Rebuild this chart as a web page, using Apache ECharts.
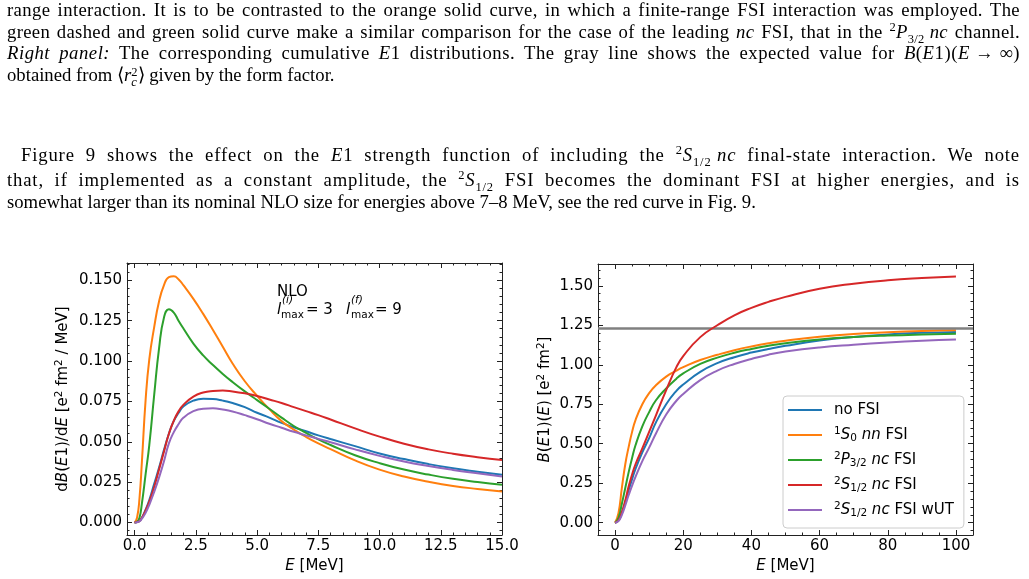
<!DOCTYPE html>
<html>
<head>
<meta charset="utf-8">
<script src="https://cdn.jsdelivr.net/npm/echarts@6/dist/echarts.min.js"></script>
<style>
html, body { margin: 0; padding: 0; background: #fff; }
#page { position: relative; width: 1029px; height: 579px; overflow: hidden; }
#chart { position: absolute; left: 0; top: 0; width: 1029px; height: 579px; }
.ln { position: absolute; left: 7px; width: 1013px; font-family: "Liberation Serif", serif; font-size: 18.7px;
      line-height: 18px; color: #000; white-space: nowrap; text-align: justify; text-align-last: justify; }
.ln.last { text-align: left; text-align-last: left; }
.ln sup, .ln sub { font-size: 12.5px; line-height: 0; }
.m { display: inline-block; }
.stk { display: inline-block; font-size: 12.5px; line-height: 10px; vertical-align: -5px; text-align: left; }
</style>
</head>
<body>
<div id="page">
  <div id="chart"></div>
  <div class="ln" style="top:1px">range interaction. It is to be contrasted to the orange solid curve, in which a finite-range FSI interaction was employed. The</div>
  <div class="ln" style="top:23px">green dashed and green solid curve make a similar comparison for the case of the leading <i>nc</i> FSI, that in the <span class="m"><sup>2</sup><i>P</i><sub>3/2</sub>&nbsp;<i>nc</i></span> channel.</div>
  <div class="ln" style="top:44px"><i>Right panel:</i> The corresponding cumulative <i>E</i>1 distributions. The gray line shows the expected value for <span class="m"><i>B</i>(<i>E</i>1)(<i>E</i> &rarr; &infin;)</span></div>
  <div class="ln last" style="top:66px">obtained from &lang;<i>r</i><span class="stk">2<br><i>c</i></span>&rang; given by the form factor.</div>

  <div class="ln" style="top:146px; left:21px; width:999px">Figure 9 shows the effect on the <i>E</i>1 strength function of including the <span class="m"><sup>2</sup><i>S</i><sub>1/2</sub>&nbsp;<i>nc</i></span> final-state interaction. We note</div>
  <div class="ln" style="top:171px">that, if implemented as a constant amplitude, the <span class="m"><sup>2</sup><i>S</i><sub>1/2</sub></span> FSI becomes the dominant FSI at higher energies, and is</div>
  <div class="ln last" style="top:193px">somewhat larger than its nominal NLO size for energies above 7&ndash;8 MeV, see the red curve in Fig. 9.</div>
</div>
<script>
// left panel: dB(E1)/dE vs E [MeV]
const leftE = [0, 0.1, 0.2, 0.3, 0.45, 0.6, 0.8, 1.0, 1.2, 1.4, 1.6, 1.8, 2.0, 2.4, 2.8, 3.2, 3.6, 4.0, 4.5, 5.0, 5.5, 6.0, 6.5, 7.0, 7.5, 8.0, 9, 10, 11, 12, 13, 14, 15];
const leftNoFSI = [0, 0.0003, 0.001, 0.003, 0.008, 0.014, 0.024, 0.034, 0.045, 0.055, 0.063, 0.068, 0.072, 0.0755, 0.0767, 0.0765, 0.0755, 0.074, 0.0715, 0.068, 0.065, 0.0617, 0.059, 0.0565, 0.054, 0.0517, 0.0473, 0.0428, 0.0393, 0.0362, 0.0336, 0.0315, 0.0296];
const left1S0 = [0, 0.003, 0.015, 0.038, 0.076, 0.101, 0.121, 0.137, 0.147, 0.152, 0.1525, 0.1505, 0.1468, 0.1385, 0.1292, 0.1192, 0.1088, 0.0985, 0.0875, 0.0785, 0.0702, 0.0628, 0.0575, 0.053, 0.049, 0.0455, 0.0385, 0.0328, 0.0285, 0.0253, 0.0227, 0.0208, 0.0192];
const left2P32 = [0, 0.0005, 0.003, 0.012, 0.03, 0.048, 0.079, 0.108, 0.127, 0.132, 0.130, 0.1248, 0.120, 0.1108, 0.1035, 0.0975, 0.092, 0.087, 0.0812, 0.0758, 0.0705, 0.065, 0.0598, 0.0555, 0.0515, 0.048, 0.0417, 0.0368, 0.0328, 0.0297, 0.0271, 0.0251, 0.0234];
const left2S12 = [0, 0.0003, 0.001, 0.003, 0.0075, 0.013, 0.022, 0.033, 0.044, 0.055, 0.063, 0.069, 0.073, 0.078, 0.0805, 0.0815, 0.0818, 0.0812, 0.080, 0.0784, 0.0762, 0.074, 0.0715, 0.069, 0.0665, 0.0638, 0.0583, 0.0532, 0.0488, 0.0453, 0.0426, 0.0405, 0.0387];
const left2S12wUT = [0, 0.0002, 0.0008, 0.0025, 0.006, 0.011, 0.019, 0.028, 0.038, 0.049, 0.056, 0.061, 0.065, 0.069, 0.0705, 0.0707, 0.070, 0.0688, 0.0665, 0.064, 0.0612, 0.0587, 0.0562, 0.054, 0.0518, 0.0497, 0.0453, 0.0413, 0.0378, 0.035, 0.0326, 0.0305, 0.0285];

// right panel: cumulative B(E1)(E)
const rightE = [0, 1, 2, 3, 4, 5, 6, 8, 10, 12, 15, 18, 20, 25, 30, 35, 40, 45, 50, 60, 70, 80, 90, 100];
const rightNoFSI = [0, 0.015, 0.06, 0.13, 0.205, 0.275, 0.34, 0.445, 0.535, 0.635, 0.75, 0.835, 0.875, 0.955, 1.01, 1.048, 1.077, 1.1, 1.12, 1.153, 1.176, 1.192, 1.202, 1.208];
const right1S0 = [0, 0.06, 0.22, 0.37, 0.48, 0.575, 0.65, 0.75, 0.82, 0.87, 0.925, 0.963, 0.985, 1.03, 1.063, 1.092, 1.116, 1.136, 1.152, 1.177, 1.195, 1.206, 1.214, 1.219];
const right2P32 = [0, 0.03, 0.12, 0.22, 0.32, 0.41, 0.49, 0.61, 0.70, 0.775, 0.85, 0.912, 0.945, 1.005, 1.045, 1.076, 1.1, 1.12, 1.136, 1.16, 1.175, 1.185, 1.192, 1.197];
const right2S12 = [0, 0.015, 0.065, 0.14, 0.23, 0.305, 0.37, 0.47, 0.575, 0.68, 0.84, 0.985, 1.055, 1.175, 1.25, 1.313, 1.36, 1.398, 1.43, 1.481, 1.513, 1.535, 1.549, 1.559];
const right2S12wUT = [0, 0.01, 0.05, 0.11, 0.175, 0.235, 0.29, 0.39, 0.475, 0.565, 0.685, 0.772, 0.815, 0.903, 0.963, 1.005, 1.037, 1.064, 1.084, 1.11, 1.127, 1.141, 1.152, 1.16];
const grayLineValue = 1.23;

// tick labels
const leftXTicks = [0, 2.5, 5, 7.5, 10, 12.5, 15];
const leftYTicks = [0, 0.025, 0.05, 0.075, 0.1, 0.125, 0.15];
const rightXTicks = [0, 20, 40, 60, 80, 100];
const rightYTicks = [0, 0.25, 0.5, 0.75, 1.0, 1.25, 1.5];

const seriesNames = ['no FSI', '1S0 nn FSI', '2P3/2 nc FSI', '2S1/2 nc FSI', '2S1/2 nc FSI wUT'];
const colors = ['#1f77b4', '#ff7f0e', '#2ca02c', '#d62728', '#9467bd'];
const legendLabels = {
  'no FSI': 'no FSI',
  '1S0 nn FSI': '{sup|1}{it|S}{sub|0} {it|nn} FSI',
  '2P3/2 nc FSI': '{sup|2}{it|P}{sub|3/2} {it|nc} FSI',
  '2S1/2 nc FSI': '{sup|2}{it|S}{sub|1/2} {it|nc} FSI',
  '2S1/2 nc FSI wUT': '{sup|2}{it|S}{sub|1/2} {it|nc} FSI wUT'
};

// justified paper lines: take part of the slack as letter spacing, like TeX's wider glyphs
document.querySelectorAll('.ln:not(.last)').forEach(el => {
  const target = el.clientWidth;
  el.style.width = 'auto';
  el.style.textAlignLast = 'left';
  const w = el.getBoundingClientRect().width;
  const n = el.textContent.length;
  if (target > w) el.style.letterSpacing = ((target - w) * 0.5 / n).toFixed(3) + 'px';
  el.style.width = target + 'px';
  el.style.textAlignLast = 'justify';
});

const FONT = 'DejaVu Sans';
const rich = {
  it: { fontFamily: FONT, fontStyle: 'italic', fontSize: 15, lineHeight: 18, color: '#000' },
  sup: { fontFamily: FONT, fontSize: 10.5, lineHeight: 10, verticalAlign: 'top', color: '#000' },
  sub: { fontFamily: FONT, fontSize: 10.5, lineHeight: 10, verticalAlign: 'bottom', color: '#000' }
};

function minorTicks(min, max, majors, n) {
  const step = (majors[1] - majors[0]) / n;
  const out = [];
  const k0 = Math.ceil(min / step - 1e-9), k1 = Math.floor(max / step + 1e-9);
  for (let k = k0; k <= k1; k++) {
    if (k % n !== 0) out.push(+(k * step).toFixed(6));
  }
  return out;
}

// one side of a panel: main axis (line, labels, major ticks), minor ticks, mirrored on the other side
function axisSet(dim, gridIndex, min, max, majors, nMinor, fmt, name, nameGap) {
  const sides = dim === 'x' ? ['bottom', 'top'] : ['left', 'right'];
  const minors = minorTicks(min, max, majors, nMinor);
  const base = {
    type: 'value', gridIndex: gridIndex, min: min, max: max,
    splitLine: { show: false }, minorTick: { show: false },
    axisLine: { show: false, onZero: false },
    axisLabel: { show: false }, axisTick: { show: false }
  };
  const tick = (vals, len) => ({ show: true, inside: true, length: len, customValues: vals, lineStyle: { color: '#222', width: 1 } });
  const line = { show: true, onZero: false, lineStyle: { color: '#222', width: 1 } };
  return [
    Object.assign({}, base, {
      position: sides[0], axisLine: line, axisTick: tick(majors, 5),
      axisLabel: { show: true, customValues: majors, formatter: fmt, margin: dim === 'x' ? 4 : 5,
                   fontFamily: FONT, fontSize: 15, color: '#000' },
      name: name, nameLocation: 'middle', nameGap: nameGap, nameMoveOverlap: false,
      nameTextStyle: { fontFamily: FONT, fontSize: 15, color: '#000', lineHeight: 18, rich: rich }
    }),
    Object.assign({}, base, { position: sides[0], axisTick: tick(minors, 2.5) }),
    Object.assign({}, base, { position: sides[1], axisLine: line, axisTick: tick(majors, 5) }),
    Object.assign({}, base, { position: sides[1], axisTick: tick(minors, 2.5) })
  ];
}

function makeSeries(xIdx, yIdx, E, values, i) {
  return {
    type: 'line', name: seriesNames[i], xAxisIndex: xIdx, yAxisIndex: yIdx,
    data: E.map((e, k) => [e, values[k]]),
    symbol: 'none', showSymbol: false, smooth: 0.5,
    lineStyle: { width: 2, color: colors[i] }, itemStyle: { color: colors[i] },
    emphasis: { disabled: true }, z: 3 + i
  };
}

const chart = echarts.init(document.getElementById('chart'));
const leftSeries = [leftNoFSI, left1S0, left2P32, left2S12, left2S12wUT];
const rightSeries = [rightNoFSI, right1S0, right2P32, right2S12, right2S12wUT];

const series = [];
leftSeries.forEach((v, i) => series.push(makeSeries(0, 0, leftE, v, i)));
series.push({
  type: 'line', name: 'expected', xAxisIndex: 4, yAxisIndex: 4, data: [], z: 2,
  markLine: {
    silent: true, symbol: ['none', 'none'], label: { show: false }, animation: false,
    lineStyle: { color: '#808080', width: 2.5, type: 'solid' },
    data: [{ yAxis: grayLineValue }]
  }
});
rightSeries.forEach((v, i) => series.push(makeSeries(4, 4, rightE, v, i)));

chart.setOption({
  animation: false,
  backgroundColor: 'transparent',
  grid: [
    { left: 127, top: 263, width: 375, height: 272 },
    { left: 598, top: 264, width: 375, height: 271 }
  ],
  xAxis: [].concat(
    axisSet('x', 0, -0.31, 15, leftXTicks, 5, v => v.toFixed(1), '{it|E} [MeV]', 22),
    axisSet('x', 1, -5, 105, rightXTicks, 4, v => String(Math.round(v)), '{it|E} [MeV]', 22)
  ),
  yAxis: [].concat(
    axisSet('y', 0, -0.0077, 0.1607, leftYTicks, 5, v => v.toFixed(3), 'd{it|B}({it|E}1)/d{it|E} [e{sup|2} fm{sup|2} / MeV]', 55),
    axisSet('y', 1, -0.078, 1.638, rightYTicks, 5, v => v.toFixed(2), '{it|B}({it|E}1)({it|E}) [e{sup|2} fm{sup|2}]', 44)
  ),
  legend: {
    show: true, orient: 'vertical', left: 783, top: 396,
    data: seriesNames, selectedMode: false,
    icon: 'rect', itemWidth: 34, itemHeight: 2, itemGap: 7,
    padding: [5, 10, 9, 5],
    borderColor: '#ccc', borderWidth: 1, borderRadius: 4,
    backgroundColor: 'rgba(255,255,255,0.8)',
    formatter: n => legendLabels[n],
    textStyle: { fontFamily: FONT, fontSize: 15, color: '#000', lineHeight: 18, padding: [0, 0, 0, 7], rich: rich }
  },
  graphic: [
    { type: 'text', x: 277, y: 285, style: { text: 'NLO', font: '15px "DejaVu Sans"', fill: '#000' } },
    { type: 'text', x: 277, y: 303, style: { text: 'l', font: 'italic 15px "DejaVu Sans"', fill: '#000' } },
    { type: 'text', x: 282, y: 295, style: { text: '(i)', font: 'italic 10.5px "DejaVu Sans"', fill: '#000' } },
    { type: 'text', x: 281, y: 310, style: { text: 'max', font: '10.5px "DejaVu Sans"', fill: '#000' } },
    { type: 'text', x: 306, y: 303, style: { text: '= 3', font: '15px "DejaVu Sans"', fill: '#000' } },
    { type: 'text', x: 346, y: 303, style: { text: 'l', font: 'italic 15px "DejaVu Sans"', fill: '#000' } },
    { type: 'text', x: 351, y: 295, style: { text: '(f)', font: 'italic 10.5px "DejaVu Sans"', fill: '#000' } },
    { type: 'text', x: 351, y: 310, style: { text: 'max', font: '10.5px "DejaVu Sans"', fill: '#000' } },
    { type: 'text', x: 375, y: 303, style: { text: '= 9', font: '15px "DejaVu Sans"', fill: '#000' } }
  ],
  series: series
});
</script>
</body>
</html>
